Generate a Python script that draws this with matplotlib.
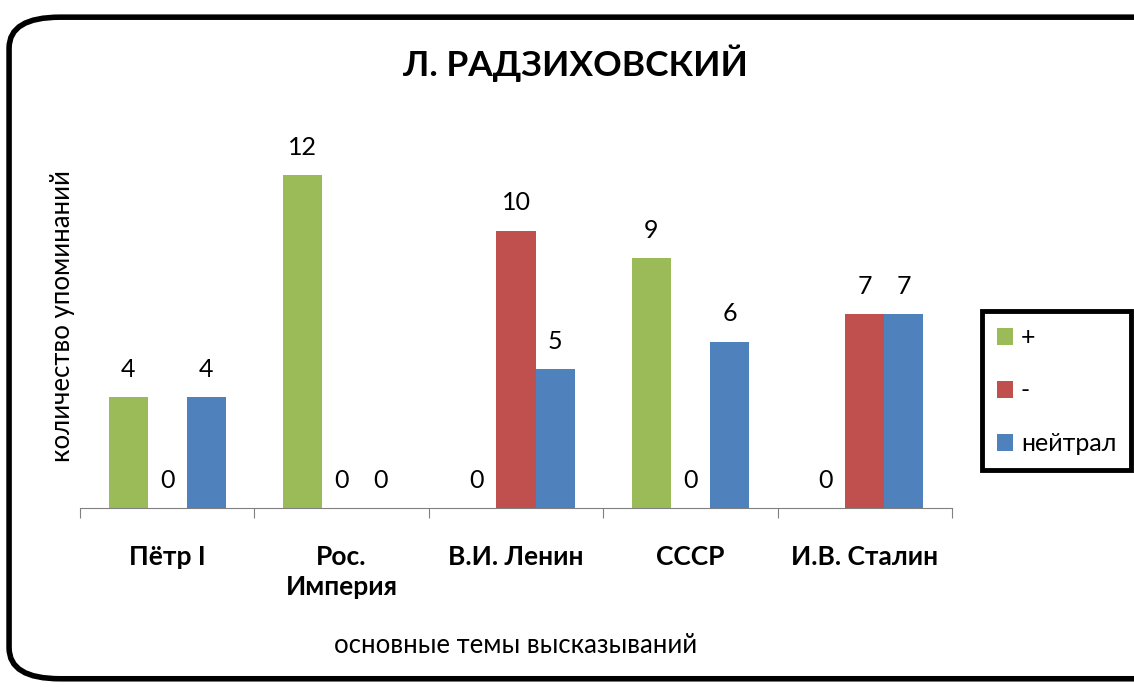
import numpy as np
import matplotlib
matplotlib.use('Agg')
import matplotlib.pyplot as plt
from matplotlib.patches import FancyBboxPatch

plt.rcParams['font.family'] = ['Lato', 'DejaVu Sans']

categories = ['Пётр I', 'Рос.\nИмперия', 'В.И. Ленин', 'СССР', 'И.В. Сталин']
plus = [4, 12, 0, 9, 0]
minus = [0, 0, 10, 0, 7]
neutral = [4, 0, 5, 6, 7]
series_names = ['+', '-', 'нейтрал']
colors = ['#9BBB59', '#C0504D', '#4F81BD']

fig = plt.figure(figsize=(11.34, 6.87), dpi=100)
ax = fig.add_axes([0.0705, 0.2606, 0.769, 0.565])

x = np.arange(len(categories))
w = 0.224
for i, (vals, name, c) in enumerate(zip([plus, minus, neutral], series_names, colors)):
    bars = ax.bar(x + (i - 1) * w, vals, w, color=c, label=name)
    for b, v in zip(bars, vals):
        ax.annotate(str(v), (b.get_x() + b.get_width() / 2, v),
                    xytext=(0, 20), textcoords='offset points',
                    ha='center', va='center', fontsize=18)

ax.set_xlim(-0.5, len(categories) - 0.5)
ax.set_ylim(0, 14)
ax.set_yticks([])
for s in ['top', 'right', 'left']:
    ax.spines[s].set_visible(False)
ax.spines['bottom'].set_color('#808080')
ax.set_xticks(np.arange(len(categories) + 1) - 0.5)
ax.set_xticklabels([])
ax.tick_params(axis='x', length=7, color='#808080')
for xi, lab in zip(x, categories):
    ax.text(xi, -1.35, lab, ha='center', va='top', fontsize=19,
            fontweight='bold', linespacing=1.3)

fig.text(0.507, 0.908, 'Л. РАДЗИХОВСКИЙ', ha='center', va='center',
         fontsize=25.5, fontweight='bold')
fig.text(0.455, 0.061, 'основные темы высказываний', ha='center', va='center',
         fontsize=18.5)
fig.text(0.055, 0.54, 'количество упоминаний', ha='center', va='center',
         rotation=90, fontsize=18.5)

leg = fig.legend(loc='center left', bbox_to_anchor=(0.866, 0.431),
                 fontsize=18, frameon=True, fancybox=False, framealpha=1,
                 labelspacing=1.2, handlelength=0.65, handleheight=0.65,
                 handletextpad=0.3, borderpad=0.6, borderaxespad=0)
leg.get_frame().set_edgecolor('black')
leg.get_frame().set_linewidth(3.5)

border = FancyBboxPatch((0.008, 0.012), 1.05, 0.963,
                        boxstyle='round,pad=0,rounding_size=0.045',
                        transform=fig.transFigure, fill=False,
                        edgecolor='black', linewidth=4, clip_on=False)
fig.patches.append(border)

fig.savefig('out.png', dpi=100)
